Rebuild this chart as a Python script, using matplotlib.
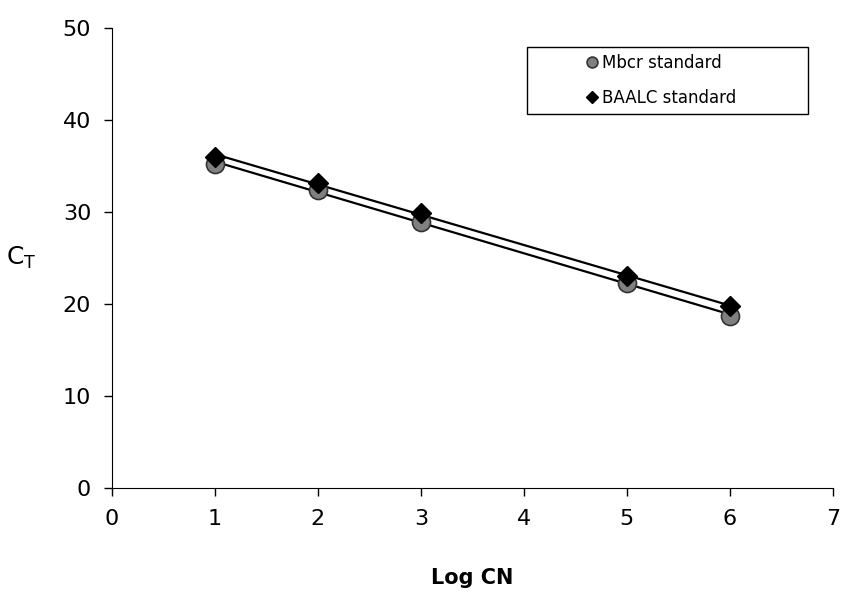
import matplotlib
matplotlib.use("Agg")
import matplotlib.pyplot as plt
from matplotlib.patches import Rectangle
import numpy as np

log_cn = [1, 2, 3, 5, 6]
mbcr_ct = [35.2, 32.4, 28.9, 22.3, 18.7]
baalc_ct = [36.0, 33.2, 29.9, 23.0, 19.8]

plt.rcParams["font.family"] = ["DejaVu Sans"]

fig = plt.figure(figsize=(8.42, 5.95), dpi=100)
ax = fig.add_axes([0.133, 0.180, 0.856, 0.773])

x = np.array(log_cn, dtype=float)
xs = np.array([x.min(), x.max()])
for ys in (mbcr_ct, baalc_ct):
    k, b = np.polyfit(x, ys, 1)
    ax.plot(xs, k * xs + b, color="black", lw=1.6, zorder=2)

ax.plot(log_cn, mbcr_ct, "o", ms=13, mfc="#808080", mec="#333333", mew=1.2,
        ls="none", label="Mbcr standard", zorder=3)
ax.plot(log_cn, baalc_ct, "D", ms=10.5, mfc="black", mec="black",
        ls="none", label="BAALC standard", zorder=4)

ax.set_xlim(0, 7)
ax.set_ylim(0, 50)
ax.set_xticks(range(0, 8))
ax.set_yticks(range(0, 60, 10))
ax.spines["top"].set_visible(False)
ax.spines["right"].set_visible(False)
ax.tick_params(axis="both", labelsize=16, direction="out", length=6, width=1,
               pad=9)
ax.set_xlabel("Log CN", fontsize=15, fontweight="bold", labelpad=28)
ax.set_ylabel(r"C$_\mathregular{T}$", fontsize=18, rotation=0, labelpad=30,
              va="center")

# legend frame is wider than its entries in the original
ax.add_patch(Rectangle((0.576, 0.813), 0.389, 0.146, transform=ax.transAxes,
                       facecolor="white", edgecolor="black", lw=1.0,
                       zorder=5, clip_on=False))
leg = ax.legend(loc="center left", bbox_to_anchor=(0.655, 0.886), fontsize=12,
                frameon=False, handletextpad=0.1, handlelength=1.0,
                borderpad=0, labelspacing=1.0, markerscale=0.6,
                borderaxespad=0)
leg.set_zorder(6)

fig.savefig("out.png", dpi=100)
